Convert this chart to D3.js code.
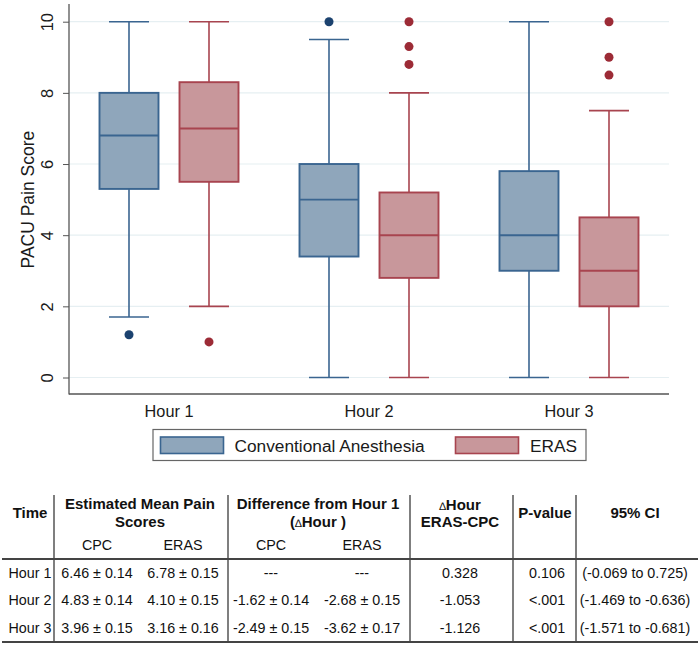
<!DOCTYPE html>
<html>
<head>
<meta charset="utf-8">
<script src="https://cdn.jsdelivr.net/npm/d3@7"></script>
<style>
  html, body { margin: 0; padding: 0; background: #fff; }
  svg { display: block; font-family: "Liberation Sans", Arial, Helvetica, sans-serif; }
</style>
</head>
<body>
<svg id="chart" width="700" height="646"></svg>
<script>
// ---------- data ----------
const hours = ["Hour 1", "Hour 2", "Hour 3"];
const seriesNames = ["Conventional Anesthesia", "ERAS"];
const seriesKeys = ["CPC", "ERAS"];
// [lower whisker, Q1, median, Q3, upper whisker]
const cpcStats = [[1.7, 5.3, 6.8, 8.0, 10], [0, 3.4, 5.0, 6.0, 9.5], [0, 3.0, 4.0, 5.8, 10]];
const erasStats = [[2.0, 5.5, 7.0, 8.3, 10], [0, 2.8, 4.0, 5.2, 8.0], [0, 2.0, 3.0, 4.5, 7.5]];
const cpcOutliers = [[1.2], [10], []];
const erasOutliers = [[1.0], [10, 9.3, 8.8], [10, 9.0, 8.5]];
const yTicks = [0, 2, 4, 6, 8, 10];

// table
const tableTime = ["Hour 1", "Hour 2", "Hour 3"];
const meanCPC = ["6.46 ± 0.14", "4.83 ± 0.14", "3.96 ± 0.15"];
const meanERAS = ["6.78 ± 0.15", "4.10 ± 0.15", "3.16 ± 0.16"];
const diffCPC = ["---", "-1.62 ± 0.14", "-2.49 ± 0.15"];
const diffERAS = ["---", "-2.68 ± 0.15", "-3.62 ± 0.17"];
const deltaHour = ["0.328", "-1.053", "-1.126"];
const pValues = ["0.106", "<.001", "<.001"];
const ci95 = ["(-0.069 to 0.725)", "(-1.469 to -0.636)", "(-1.571 to -0.681)"];

// ---------- styles ----------
const fills = { CPC: "#8fa6bb", ERAS: "#c8979b" };
const strokes = { CPC: "#3a6590", ERAS: "#a8444f" };
const dotColors = { CPC: "#1b426f", ERAS: "#9c2b36" };

const svg = d3.select("#chart");

const plotLeft = 69, plotRight = 669;
const y = d3.scaleLinear().domain([0, 10]).range([377.5, 21.7]);
const x = d3.scaleBand().domain(hours).range([plotLeft, plotRight]);
const xs = d3.scaleBand().domain(seriesKeys).range([-80, 80]);
const boxW = 59, capW = 40;

// gridlines
svg.append("g").selectAll("line").data(yTicks).join("line")
  .attr("x1", plotLeft).attr("x2", plotRight)
  .attr("y1", d => y(d)).attr("y2", d => y(d))
  .attr("stroke", "#e6eff2").attr("stroke-width", 1.2);

// y axis
const yAxis = d3.axisLeft(y).tickValues(yTicks).tickSize(6).tickPadding(0).tickFormat(d3.format("d"));
const ga = svg.append("g").attr("transform", `translate(${plotLeft},0)`).call(yAxis);
ga.select(".domain").remove();
ga.selectAll(".tick line").attr("stroke", "#555").attr("stroke-width", 1);
ga.selectAll(".tick text")
  .attr("x", null).attr("dy", null)
  .attr("transform", "translate(-16.5,0) rotate(-90)")
  .attr("text-anchor", "middle")
  .attr("font-size", 16.5).attr("fill", "#1a1a1a")
  .attr("font-family", "'Liberation Sans', Arial, sans-serif");
svg.append("line").attr("x1", plotLeft).attr("x2", plotLeft).attr("y1", 4).attr("y2", 394.5)
  .attr("stroke", "#555").attr("stroke-width", 1.3);
svg.append("line").attr("x1", plotLeft).attr("x2", plotRight).attr("y1", 394).attr("y2", 394)
  .attr("stroke", "#555").attr("stroke-width", 1.3);

// y title
svg.append("text").attr("transform", `translate(34,${(y(0) + y(10)) / 2}) rotate(-90)`)
  .attr("text-anchor", "middle").attr("font-size", 17.5).attr("fill", "#1a1a1a").text("PACU Pain Score");

// x labels
const xAxis = d3.axisBottom(x).tickSize(0).tickPadding(0);
const gx = svg.append("g").attr("transform", "translate(0,394)").call(xAxis);
gx.select(".domain").remove();
gx.selectAll(".tick text").attr("dy", null).attr("y", 22.5)
  .attr("font-size", 16.3).attr("fill", "#1a1a1a")
  .attr("font-family", "'Liberation Sans', Arial, sans-serif");

// boxes
const boxData = [];
hours.forEach((h, i) => {
  boxData.push({ hour: h, key: "CPC", s: cpcStats[i], out: cpcOutliers[i] });
  boxData.push({ hour: h, key: "ERAS", s: erasStats[i], out: erasOutliers[i] });
});
const gb = svg.append("g").selectAll("g").data(boxData).join("g")
  .attr("transform", d => `translate(${x(d.hour) + x.bandwidth() / 2 + xs(d.key) + xs.bandwidth() / 2},0)`);
// whiskers
gb.append("line").attr("x1", 0).attr("x2", 0).attr("y1", d => y(d.s[3])).attr("y2", d => y(d.s[4]))
  .attr("stroke", d => strokes[d.key]).attr("stroke-width", 1.6);
gb.append("line").attr("x1", 0).attr("x2", 0).attr("y1", d => y(d.s[1])).attr("y2", d => y(d.s[0]))
  .attr("stroke", d => strokes[d.key]).attr("stroke-width", 1.6);
gb.append("line").attr("x1", -capW / 2).attr("x2", capW / 2).attr("y1", d => y(d.s[4])).attr("y2", d => y(d.s[4]))
  .attr("stroke", d => strokes[d.key]).attr("stroke-width", 1.6);
gb.append("line").attr("x1", -capW / 2).attr("x2", capW / 2).attr("y1", d => y(d.s[0])).attr("y2", d => y(d.s[0]))
  .attr("stroke", d => strokes[d.key]).attr("stroke-width", 1.6);
// box
gb.append("rect").attr("x", -boxW / 2).attr("width", boxW)
  .attr("y", d => y(d.s[3])).attr("height", d => y(d.s[1]) - y(d.s[3]))
  .attr("fill", d => fills[d.key]).attr("stroke", d => strokes[d.key]).attr("stroke-width", 1.9);
gb.append("line").attr("x1", -boxW / 2).attr("x2", boxW / 2).attr("y1", d => y(d.s[2])).attr("y2", d => y(d.s[2]))
  .attr("stroke", d => strokes[d.key]).attr("stroke-width", 1.9);
// outliers
gb.selectAll("circle").data(d => d.out.map(v => ({ v, key: d.key }))).join("circle")
  .attr("cx", 0).attr("cy", d => y(d.v)).attr("r", 4.5).attr("fill", d => dotColors[d.key]);

// legend
const lg = svg.append("g");
lg.append("rect").attr("x", 153).attr("y", 429.5).attr("width", 433).attr("height", 31)
  .attr("fill", "#fff").attr("stroke", "#666").attr("stroke-width", 1.2);
const legendItems = [
  { key: "CPC", name: seriesNames[0], rx: 160.5, tx: 234.5 },
  { key: "ERAS", name: seriesNames[1], rx: 455.5, tx: 530 }
];
legendItems.forEach(it => {
  lg.append("rect").attr("x", it.rx).attr("y", 437).attr("width", 63).attr("height", 16.5)
    .attr("fill", fills[it.key]).attr("stroke", strokes[it.key]).attr("stroke-width", 1.6);
  lg.append("text").attr("x", it.tx).attr("y", 451.5).attr("font-size", 17.3).attr("fill", "#1a1a1a").text(it.name);
});

// ---------- table ----------
const tg = svg.append("g").attr("fill", "#111");
const colX = { time: 30, mC: 97, mE: 183, dC: 271, dE: 362, dh: 460, p: 545, ci: 635 };
function txt(xp, yp, s, opts = {}) {
  return tg.append("text").attr("x", xp).attr("y", yp).attr("text-anchor", "middle")
    .attr("font-size", opts.size || 14.3).attr("font-weight", opts.bold ? "bold" : "normal").text(s);
}
// header
txt(colX.time, 518, "Time", { bold: true, size: 15 });
txt(140, 508.5, "Estimated Mean Pain", { bold: true, size: 15 });
txt(140, 526.5, "Scores", { bold: true, size: 15 });
txt(318, 508.5, "Difference from Hour 1", { bold: true, size: 15 });
const dl = tg.append("text").attr("x", 318).attr("y", 526.5).attr("text-anchor", "middle")
  .attr("font-size", 15).attr("font-weight", "bold");
dl.append("tspan").text("(");
dl.append("tspan").attr("font-size", 11).attr("font-weight", "normal").text("∆");
dl.append("tspan").text("Hour )");
const dh = tg.append("text").attr("x", colX.dh).attr("y", 510).attr("text-anchor", "middle")
  .attr("font-size", 15).attr("font-weight", "bold");
dh.append("tspan").attr("font-size", 11).attr("font-weight", "normal").text("∆");
dh.append("tspan").text("Hour");
txt(colX.dh, 527, "ERAS-CPC", { bold: true, size: 15 });
txt(colX.p, 518, "P-value", { bold: true, size: 15 });
txt(colX.ci, 518, "95% CI", { bold: true, size: 15 });
txt(colX.mC, 550, "CPC");
txt(colX.mE, 550, "ERAS");
txt(colX.dC, 550, "CPC");
txt(colX.dE, 550, "ERAS");

const rowY = [578, 605.3, 632.6];
tableTime.forEach((t, i) => {
  txt(colX.time, rowY[i], t);
  txt(colX.mC, rowY[i], meanCPC[i]);
  txt(colX.mE, rowY[i], meanERAS[i]);
  txt(colX.dC, rowY[i], diffCPC[i]);
  txt(colX.dE, rowY[i], diffERAS[i]);
  txt(colX.dh, rowY[i], deltaHour[i]);
  txt(colX.p + 2, rowY[i], pValues[i]);
  txt(colX.ci, rowY[i], ci95[i]);
});
// lines
[54, 228, 410, 513, 576].forEach(xv => {
  tg.append("line").attr("x1", xv).attr("x2", xv).attr("y1", 495).attr("y2", 642)
    .attr("stroke", "#555").attr("stroke-width", 1.5);
});
[559, 642].forEach(yv => {
  tg.append("line").attr("x1", 2).attr("x2", 698).attr("y1", yv).attr("y2", yv)
    .attr("stroke", "#444").attr("stroke-width", 1.8);
});
</script>
</body>
</html>
